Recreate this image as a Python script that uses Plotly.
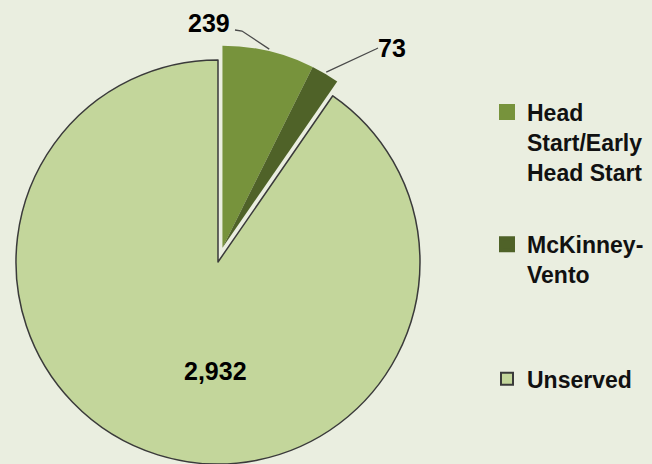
import math
import plotly.graph_objects as go

# ---------------- data ----------------
categories = ["Head Start/Early Head Start", "McKinney-Vento", "Unserved"]
legend_labels = ["Head<br>Start/Early<br>Head Start", "McKinney-<br>Vento", "Unserved"]
values = [239, 73, 2932]
exploded = [True, True, False]

# ---------------- style ----------------
W, H = 652, 464
BG = "#EAEEE0"
colors = ["#77933C", "#4F6228", "#C3D69B"]
line_colors = ["rgba(0,0,0,0)", "rgba(0,0,0,0)", "#3A3A3A"]
line_widths = [0, 0, 1.5]
legend_line_colors = ["#77933C", "#4F6228", "#3A3A3A"]
legend_line_widths = [4, 4, 2]
FONT = "Liberation Sans, Arial, sans-serif"
CX, CY, R = 218, 262, 202          # pie centre / radius in pixels
EXPLODE = 15                       # explosion distance in pixels
LEADER_R = 204                     # leader line anchor radius

def px(x):
    return x / W

def py(y):
    return 1 - y / H

def clamp(v):
    return min(1.0, max(0.0, v))

def domain(cx, cy, r):
    return dict(x=[clamp((cx - r) / W), clamp((cx + r) / W)],
                y=[clamp(1 - (cy + r) / H), clamp(1 - (cy - r) / H)])

total = sum(values)
frac = [v / total for v in values]
start = [sum(frac[:i]) for i in range(len(values))]
mid_deg = [360 * (start[i] + frac[i] / 2) for i in range(len(values))]
exp_frac = sum(f for f, e in zip(frac, exploded) if e)
exp_mid = math.radians(360 * exp_frac / 2)
CXP = CX + EXPLODE * math.sin(exp_mid)
CYP = CY - EXPLODE * math.cos(exp_mid)

transparent = "rgba(0,0,0,0)"
fig = go.Figure()

# legend carriers (zero-size pies, one per legend)
legend_ids = ["legend", "legend2", "legend3"]
for i, lab in enumerate(legend_labels):
    fig.add_trace(go.Pie(
        labels=[lab], values=[values[i]], sort=False,
        marker=dict(colors=[colors[i]],
                    line=dict(color=[legend_line_colors[i]], width=[legend_line_widths[i]])),
        textinfo="none", hoverinfo="skip", showlegend=True, legend=legend_ids[i],
        domain=dict(x=[0, 0.00001], y=[0, 0.00001]),
    ))

# non-exploded slices
fig.add_trace(go.Pie(
    labels=categories, values=values, sort=False, direction="clockwise", rotation=0,
    marker=dict(colors=[transparent if e else c for c, e in zip(colors, exploded)],
                line=dict(color=line_colors, width=[0 if e else w for w, e in zip(line_widths, exploded)])),
    textinfo="none", hoverinfo="label+value", showlegend=False,
    domain=domain(CX, CY, R),
))

# exploded slices
fig.add_trace(go.Pie(
    labels=categories, values=values, sort=False, direction="clockwise", rotation=0,
    marker=dict(colors=[c if e else transparent for c, e in zip(colors, exploded)],
                line=dict(width=0)),
    textinfo="none", hoverinfo="label+value", showlegend=False,
    domain=domain(CXP, CYP, R),
))

# value labels
label_pos = [(209, 23), (392, 48), (215, 371)]
leader_start = [[(235, 30), (242, 31)], [(378, 48), (376, 49)], None]
annotations = []
shapes = []
for i, v in enumerate(values):
    lx, ly = label_pos[i]
    annotations.append(dict(
        x=px(lx), y=py(ly), xref="paper", yref="paper", text=f"{v:,}",
        showarrow=False, xanchor="center", yanchor="middle",
        font=dict(family=FONT, size=25, color="#000000", weight="bold"),
    ))
    if leader_start[i] is not None:
        a = math.radians(mid_deg[i])
        cx0, cy0 = (CXP, CYP) if exploded[i] else (CX, CY)
        ax = cx0 + LEADER_R * math.sin(a)
        ay = cy0 - LEADER_R * math.cos(a)
        pts = leader_start[i] + [(ax, ay)]
        path = "M " + " L ".join(f"{px(x):.5f},{py(y):.5f}" for x, y in pts)
        shapes.append(dict(type="path", path=path, xref="paper", yref="paper",
                           line=dict(color="#4A4A4A", width=1.3)))

leg_font = dict(family=FONT, size=23, color="#111111", weight="bold")
legend_tops = [90.6, 222.9, 357.3]
leg = {}
for lid, top in zip(legend_ids, legend_tops):
    leg[lid] = dict(x=px(487), y=py(top), xanchor="left", yanchor="top", valign="top",
                    font=leg_font, bgcolor="rgba(0,0,0,0)", borderwidth=0)

fig.update_layout(
    width=W, height=H,
    margin=dict(l=0, r=0, t=0, b=0),
    paper_bgcolor=BG, plot_bgcolor=BG,
    annotations=annotations, shapes=shapes,
    **leg,
)

fig.write_html("out.html", config={"displayModeBar": False},
               post_script="document.body.style.margin='0';")
